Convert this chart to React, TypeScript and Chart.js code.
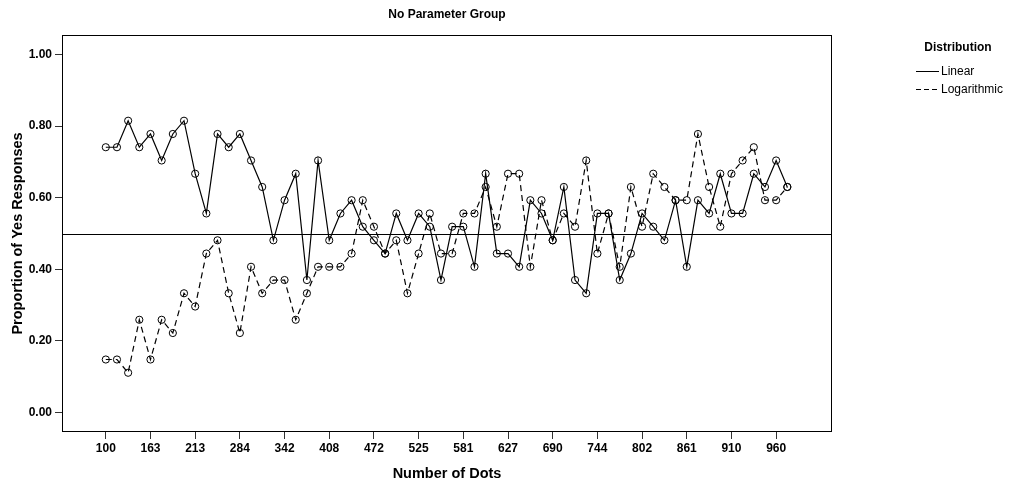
import React, { useEffect, useRef } from "react";
import { Chart, registerables } from "chart.js";

Chart.register(...registerables);

const FONT = "'Liberation Sans', Arial, Helvetica, sans-serif";

const TITLE = "No Parameter Group";
const X_TITLE = "Number of Dots";
const Y_TITLE = "Proportion of Yes Responses";
const LEGEND_TITLE = "Distribution";
const SERIES_NAMES = ["Linear", "Logarithmic"];

// Number of dots for each stimulus (every 4th one is labelled on the axis)
const DOTS = [
  100, 115, 131, 147,
  163, 176, 188, 200,
  213, 231, 248, 266,
  284, 298, 313, 327,
  342, 358, 375, 391,
  408, 424, 440, 456,
  472, 485, 498, 511,
  525, 539, 553, 567,
  581, 592, 604, 615,
  627, 643, 658, 674,
  690, 703, 717, 730,
  744, 758, 773, 787,
  802, 817, 832, 846,
  861, 873, 885, 897,
  910, 922, 935, 947,
  960, 972,
];

const LINEAR = [
  0.741, 0.741, 0.815, 0.741, 0.778, 0.704, 0.778, 0.815, 0.667, 0.556,
  0.778, 0.741, 0.778, 0.704, 0.630, 0.481, 0.593, 0.667, 0.370, 0.704,
  0.481, 0.556, 0.593, 0.519, 0.481, 0.444, 0.556, 0.481, 0.556, 0.519,
  0.370, 0.519, 0.519, 0.407, 0.667, 0.444, 0.444, 0.407, 0.593, 0.556,
  0.481, 0.630, 0.370, 0.333, 0.556, 0.556, 0.370, 0.444, 0.556, 0.519,
  0.481, 0.593, 0.407, 0.593, 0.556, 0.667, 0.556, 0.556, 0.667, 0.630,
  0.704, 0.630,
];

const LOGARITHMIC = [
  0.148, 0.148, 0.111, 0.259, 0.148, 0.259, 0.222, 0.333, 0.296, 0.444,
  0.481, 0.333, 0.222, 0.407, 0.333, 0.370, 0.370, 0.259, 0.333, 0.407,
  0.407, 0.407, 0.444, 0.593, 0.519, 0.444, 0.481, 0.333, 0.444, 0.556,
  0.444, 0.444, 0.556, 0.556, 0.630, 0.519, 0.667, 0.667, 0.407, 0.593,
  0.481, 0.556, 0.519, 0.704, 0.444, 0.556, 0.407, 0.630, 0.519, 0.667,
  0.630, 0.593, 0.593, 0.778, 0.630, 0.519, 0.667, 0.704, 0.741, 0.593,
  0.593, 0.630,
];

const Y_TICKS = [0, 0.2, 0.4, 0.6, 0.8, 1.0];
const X_LABEL_EVERY = 4;
const REFERENCE_VALUE = 0.5;

const overlayPlugin = {
  id: "overlay",
  beforeDatasetsDraw(chart: any) {
    const { ctx, chartArea: a, scales } = chart;
    const y = Math.round(scales.y.getPixelForValue(REFERENCE_VALUE)) + 0.5;
    ctx.save();
    ctx.strokeStyle = "#000";
    ctx.lineWidth = 1;
    ctx.setLineDash([]);
    ctx.beginPath();
    ctx.moveTo(a.left, y);
    ctx.lineTo(a.right, y);
    ctx.stroke();
    ctx.strokeRect(
      Math.round(a.left) + 0.5,
      Math.round(a.top) + 0.5,
      Math.round(a.right) - Math.round(a.left) - 1,
      Math.round(a.bottom) - Math.round(a.top) - 1
    );
    ctx.restore();
  },
  afterDraw(chart: any) {
    const { ctx } = chart;
    ctx.save();
    ctx.fillStyle = "#000";
    ctx.strokeStyle = "#000";
    ctx.lineWidth = 1;
    ctx.font = `bold 12px ${FONT}`;
    ctx.textAlign = "center";
    ctx.textBaseline = "middle";
    ctx.fillText(LEGEND_TITLE, 958, 48);
    chart.data.datasets.forEach((ds: any, i: number) => {
      const y = Math.round(71 + i * 17.5) + 0.5;
      ctx.setLineDash(ds.borderDash && ds.borderDash.length ? [5, 3] : []);
      ctx.beginPath();
      ctx.moveTo(916, y);
      ctx.lineTo(939, y);
      ctx.stroke();
      ctx.setLineDash([]);
      ctx.font = `12px ${FONT}`;
      ctx.textAlign = "left";
      ctx.fillText(ds.label, 941, y);
    });
    ctx.restore();
  },
};

export default function App() {
  const canvasRef = useRef<HTMLCanvasElement | null>(null);

  useEffect(() => {
    if (!canvasRef.current) return;
    Chart.defaults.font.family = FONT;
    Chart.defaults.color = "#000";

    const pointStyle = {
      borderColor: "#000",
      borderWidth: 1.2,
      pointStyle: "circle",
      pointRadius: 3.6,
      pointBorderWidth: 1,
      pointBorderColor: "#000",
      pointBackgroundColor: "rgba(0,0,0,0)",
      tension: 0,
      fill: false,
    };

    const chart = new Chart(canvasRef.current, {
      type: "line",
      data: {
        datasets: [
          {
            label: SERIES_NAMES[0],
            data: LINEAR.map((v, i) => ({ x: i, y: v })),
            ...pointStyle,
          },
          {
            label: SERIES_NAMES[1],
            data: LOGARITHMIC.map((v, i) => ({ x: i, y: v })),
            borderDash: [6, 4],
            ...pointStyle,
          },
        ],
      },
      options: {
        animation: false,
        responsive: true,
        maintainAspectRatio: false,
        events: [],
        layout: { padding: { left: 0, right: 185, top: 0, bottom: 0 } },
        plugins: {
          legend: { display: false },
          tooltip: { enabled: false },
          title: {
            display: true,
            text: TITLE,
            fullSize: false,
            color: "#000",
            font: { size: 12, weight: "bold", family: FONT, lineHeight: 1.2 },
            padding: { top: 7, bottom: 13.6 },
          },
        },
        scales: {
          x: {
            type: "linear",
            min: -3.92,
            max: 65,
            afterBuildTicks: (s: any) => {
              s.ticks = DOTS.map((_, i) => i)
                .filter((i) => i % X_LABEL_EVERY === 0)
                .map((v) => ({ value: v }));
            },
            afterFit: (s: any) => {
              s.height = 55;
            },
            ticks: {
              autoSkip: false,
              maxRotation: 0,
              padding: 2,
              color: "#000",
              font: { size: 12, weight: "bold", family: FONT },
              callback: (v: any) => String(DOTS[Math.round(Number(v))] ?? ""),
            },
            grid: {
              display: true,
              drawOnChartArea: false,
              drawTicks: true,
              tickLength: 7,
              color: "#333",
            },
            border: { display: false },
            title: {
              display: true,
              text: X_TITLE,
              color: "#000",
              font: { size: 14.5, weight: "bold", family: FONT, lineHeight: 1.2 },
              padding: { top: 0, bottom: 4 },
            },
          },
          y: {
            type: "linear",
            min: -0.0545,
            max: 1.0545,
            afterBuildTicks: (s: any) => {
              s.ticks = Y_TICKS.map((v) => ({ value: v }));
            },
            afterFit: (s: any) => {
              s.width = 62;
            },
            ticks: {
              padding: 3,
              color: "#000",
              font: { size: 12, weight: "bold", family: FONT },
              callback: (v: any) => Number(v).toFixed(2),
            },
            grid: {
              display: true,
              drawOnChartArea: false,
              drawTicks: true,
              tickLength: 7,
              color: "#333",
            },
            border: { display: false },
            title: {
              display: true,
              text: Y_TITLE,
              color: "#000",
              font: { size: 14.5, weight: "bold", family: FONT, lineHeight: 1.2 },
              padding: { top: 9, bottom: 0 },
            },
          },
        },
      } as any,
      plugins: [overlayPlugin],
    });

    return () => chart.destroy();
  }, []);

  return (
    <div
      style={{
        position: "fixed",
        left: 0,
        top: 0,
        width: 1017,
        height: 487,
        background: "#fff",
      }}
    >
      <canvas ref={canvasRef} />
    </div>
  );
}
